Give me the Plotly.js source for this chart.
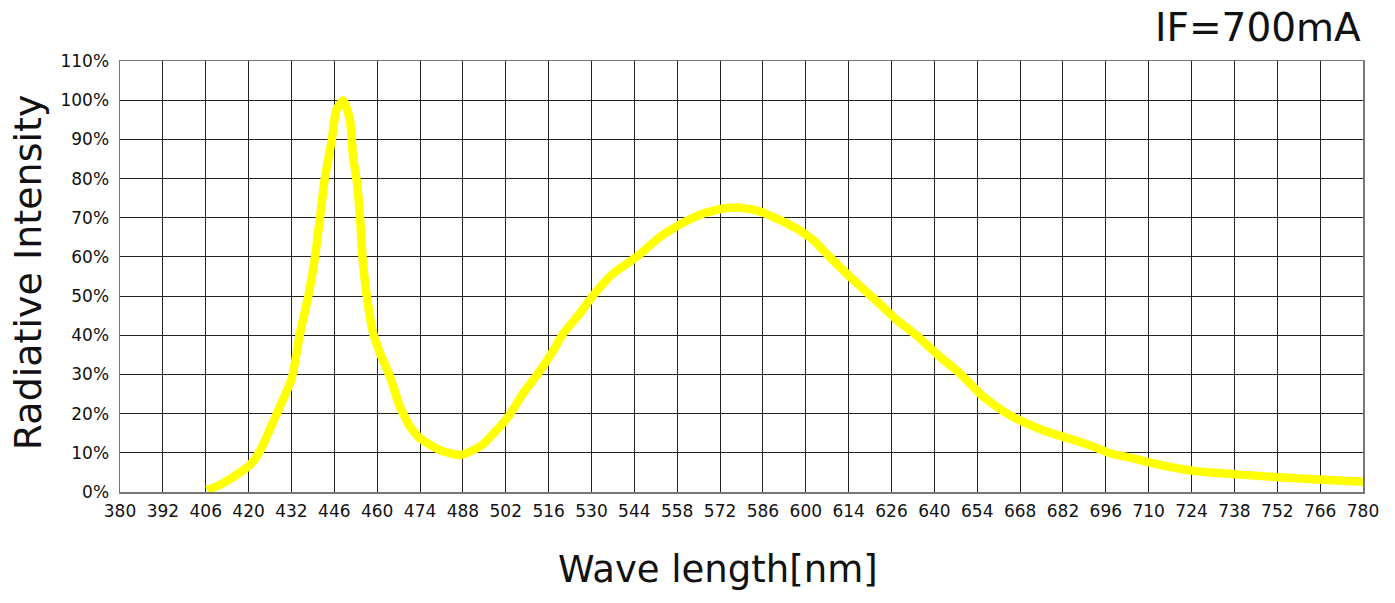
<!DOCTYPE html>
<html>
<head>
<meta charset="utf-8">
<script src="https://cdn.plot.ly/plotly-3.0.1.min.js"></script>
<style>html,body{margin:0;padding:0;background:#fff;}#chart{width:1395px;height:603px;}</style>
</head>
<body>
<div id="chart"></div>
<script>
// Tick labels on the wavelength axis (equally spaced grid columns)
const tickLabels = [380,392,406,420,432,446,460,474,488,502,516,530,544,558,572,586,600,614,626,640,654,668,682,696,710,724,738,752,766,780];
// Y ticks (percent)
const yTicks = [0,10,20,30,40,50,60,70,80,90,100,110];

// Spectrum: wavelength [nm] and relative intensity [%]
const wavelength = [406.3,410,413.9,417.2,420.5,423.2,427.9,432.1,434.8,437.5,439.7,441.3,442.9,445.2,446.6,448.9,451.1,452.2,453.3,454.4,455.2,456.5,458.7,460.9,464.2,467.4,470.7,474,480.5,487,493.6,500.1,502.8,507.7,512.6,517,520.8,526.2,531.1,537.1,544.7,552.4,559.4,566.5,573.5,577.5,583.9,591.6,598,602.4,607.8,614.4,622.8,627.7,634.1,641.8,648.3,656,663.5,670.1,676.7,683.7,691.8,697.3,705,711.4,724.6,738.7,752.8,767,780];
const intensity = [0.5,1.6,3.3,5.0,7.0,10.5,20,29,40.5,50,60,70,80,90,97.4,100,95,85,79.6,70,60,50.7,40.5,35.5,29.4,21.8,16.7,13.7,10.7,9.4,11.6,16.7,19.2,25.2,30.3,35.4,40.5,45.6,50.7,55.8,60,65.1,68.5,71.1,72.4,72.6,71.9,69.4,66.8,64.3,60,54.9,47.9,43.9,40,34.5,30.3,24.3,20.1,17.5,15.4,13.7,11.6,9.9,8.6,7.3,5.4,4.5,3.75,3.1,2.6];

// Map a wavelength onto the equally spaced grid columns defined by the tick labels
function toGrid(wl){
  for(let i=0;i<tickLabels.length-1;i++){
    if(wl>=tickLabels[i] && wl<=tickLabels[i+1]){
      return i + (wl-tickLabels[i])/(tickLabels[i+1]-tickLabels[i]);
    }
  }
  return wl < tickLabels[0] ? 0 : tickLabels.length-1;
}
const xPos = wavelength.map(toGrid);
const tickPos = tickLabels.map((v,i)=>i);

const trace = {
  x: xPos, y: intensity, type:'scatter', mode:'lines',
  line:{color:'#FFFF00', width:8.5, shape:'spline', smoothing:0.5},
  hoverinfo:'skip'
};

const font = "DejaVu Sans, Noto Sans, sans-serif";
const layout = {
  width:1395, height:603,
  margin:{l:120, r:32, t:61, b:111},
  paper_bgcolor:'#fff', plot_bgcolor:'#fff',
  showlegend:false,
  font:{family:font, color:'#111'},
  xaxis:{
    range:[0,29], tickvals:tickPos, ticktext:tickLabels.map(String),
    showgrid:true, gridcolor:'#222', gridwidth:1,
    showline:true, mirror:true, linecolor:'#777', linewidth:1.5,
    zeroline:false, ticks:'', ticklabelstandoff:3,
    tickfont:{family:font, size:17, color:'#111'},
    fixedrange:true
  },
  yaxis:{
    range:[0,110], tickvals:yTicks, ticktext:yTicks.map(v=>v+'%'),
    showgrid:true, gridcolor:'#222', gridwidth:1,
    showline:true, mirror:true, linecolor:'#777', linewidth:1.5,
    zeroline:false, ticks:'', ticklabelstandoff:6,
    tickfont:{family:font, size:17, color:'#111'},
    fixedrange:true
  },
  annotations:[
    {text:'Wave length[nm]', xref:'paper', yref:'paper', x:0.481, y:-0.179,
     xanchor:'center', yanchor:'middle', showarrow:false,
     font:{family:font, size:37, color:'#111'}},
    {text:'Radiative Intensity', xref:'paper', yref:'paper', x:-0.074, y:0.51,
     xanchor:'center', yanchor:'middle', textangle:-90, showarrow:false,
     font:{family:font, size:38, color:'#111'}},
    {text:'IF=700mA', xref:'paper', yref:'paper', x:1.0, y:1.077,
     xanchor:'right', yanchor:'middle', showarrow:false,
     font:{family:font, size:39, color:'#111'}}
  ]
};

Plotly.newPlot('chart',[trace],layout,{displayModeBar:false, staticPlot:true});
</script>
</body>
</html>
